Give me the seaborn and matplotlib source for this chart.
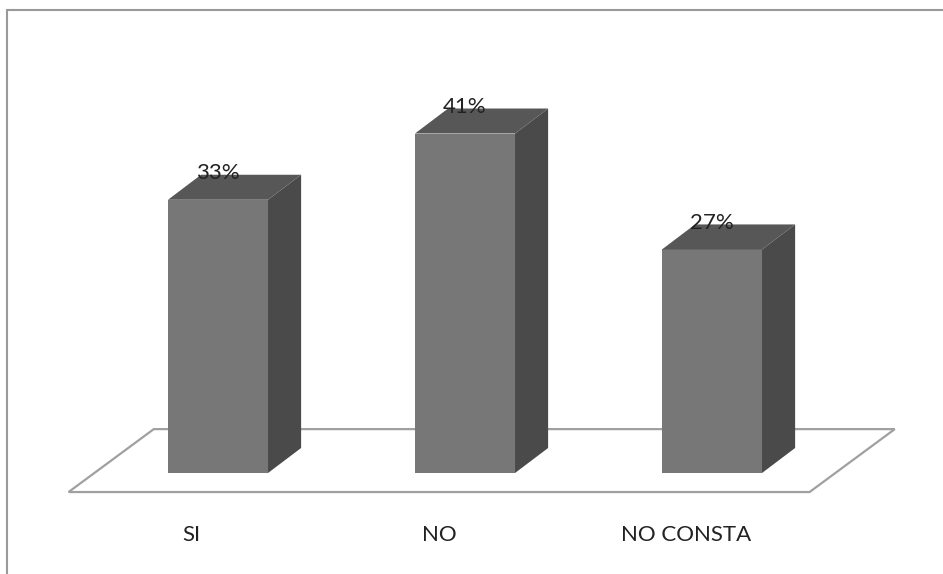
import seaborn as sns
import matplotlib
matplotlib.use("Agg")
from matplotlib import pyplot as plt
from matplotlib.patches import Polygon
from matplotlib.lines import Line2D

categories = ["SI", "NO", "NO CONSTA"]
values = [33, 41, 27]
labels = ["33%", "41%", "27%"]

FRONT = "#777777"
SIDE = "#4a4a4a"
TOP = "#575757"
EDGE = "#a0a0a0"

# layout of the fake 3d, in data units (1 category = 247 px, 1 % = 8.28 px)
BAR_W = 0.405
DX, DY = 0.134, 3.02          # bar depth offset
FLOOR_FRONT = (-0.105, -2.3)  # shift / height of the floor's front edge
FLOOR_BACK = (0.24, 5.3)
LABEL_SHIFT, LABEL_Y = -0.106, -7.5

sns.set_style("white")
plt.rcParams["font.family"] = ["Lato", "DejaVu Sans"]

fig = plt.figure(figsize=(9.43, 5.74), dpi=100)
ax = fig.add_axes([0, 0, 1, 1])

sns.barplot(x=categories, y=values, color=FRONT, width=BAR_W, saturation=1,
            edgecolor="none", ax=ax, zorder=2)

n = len(categories)
# floor
floor = Polygon([(-0.5 + FLOOR_FRONT[0], FLOOR_FRONT[1]),
                 (n - 0.5 + FLOOR_FRONT[0], FLOOR_FRONT[1]),
                 (n - 0.5 + FLOOR_BACK[0], FLOOR_BACK[1]),
                 (-0.5 + FLOOR_BACK[0], FLOOR_BACK[1])],
                closed=True, facecolor="white", edgecolor=EDGE, lw=1.6, zorder=0.5)
ax.add_patch(floor)

for i, v in enumerate(values):
    l, r = i - BAR_W / 2, i + BAR_W / 2
    side = Polygon([(r, 0), (r + DX, DY), (r + DX, v + DY), (r, v)],
                   closed=True, facecolor=SIDE, edgecolor="none", zorder=2)
    top = Polygon([(l, v), (l + DX, v + DY), (r + DX, v + DY), (r, v)],
                  closed=True, facecolor=TOP, edgecolor="none", zorder=2)
    ax.add_patch(side)
    ax.add_patch(top)
    ax.text(i, v + DY + 0.2, labels[i], ha="center", va="center",
            fontsize=16, color="#222222", zorder=3)
    ax.text(i + LABEL_SHIFT, LABEL_Y, categories[i], ha="center", va="center",
            fontsize=16, color="#222222")

ax.set_xlim(-218 / 247, (943 - 218) / 247)
ax.set_ylim(-101 / 8.28, 473 / 8.28)
ax.axis("off")

# chart border (top and left edges visible)
fig.add_artist(Line2D([7 / 943, 1], [1 - 10 / 574, 1 - 10 / 574],
                      transform=fig.transFigure, color="#999999", lw=1.5))
fig.add_artist(Line2D([7 / 943, 7 / 943], [0, 1 - 10 / 574],
                      transform=fig.transFigure, color="#999999", lw=1.5))

fig.savefig("out.png", dpi=100)
